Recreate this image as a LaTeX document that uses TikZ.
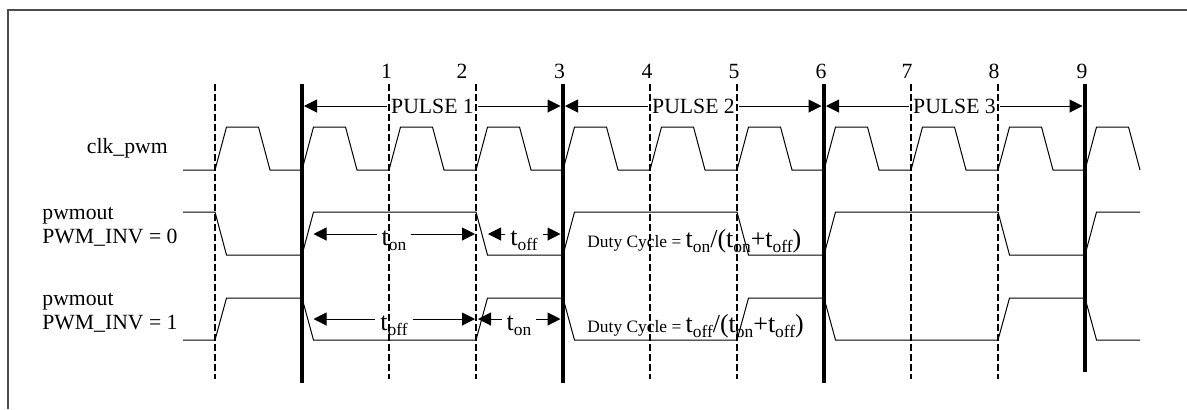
\documentclass[tikz,border=0pt]{standalone}
\usepackage{fontspec}
\setmainfont{Liberation Serif}
\usetikzlibrary{arrows.meta}

\newcommand{\tval}[1]{{\fontsize{13}{15}\selectfont t}\raisebox{-2.5pt}{\fontsize{8.7}{10}\selectfont #1}}

\begin{document}
\begin{tikzpicture}[x=0.5pt, y=-0.5pt,
  wave/.style={line width=0.5pt},
  bar/.style={line width=2pt},
  gridline/.style={line width=0.6pt, dash pattern=on 3.3pt off 1.7pt},
  dim/.style={{Triangle[length=6.5pt,width=6.5pt]}-{Triangle[length=6.5pt,width=6.5pt]}, line width=0.5pt},
  lbl/.style={font=\fontsize{10.85}{13}\selectfont, inner sep=0pt, anchor=base west},
  num/.style={font=\fontsize{10.85}{13}\selectfont, inner sep=0pt, anchor=base},
  ptag/.style={font=\fontsize{10.85}{13}\selectfont, fill=white, inner xsep=2.2pt, inner ysep=1pt, anchor=base},
  ttag/.style={font=\fontsize{13}{15}\selectfont, fill=white, inner xsep=2.5pt, inner ysep=0.5pt, anchor=base}
]
  \useasboundingbox (0,0) rectangle (1187,409);
  % frame
  \draw[black!70, line width=0.8pt] (8,409) -- (8,10) -- (1187,10);

  % grid tops
  \foreach \k in {0,...,10} \coordinate (g\k) at ({215+87*\k},84);

  % signal names
  \node[lbl] (clk) at (86.5,153) {clk\_pwm};
  \node[lbl] (pwm0) at (42,219) {pwmout};
  \node[lbl] (inv0) at (42,243) {PWM\_INV = 0};
  \node[lbl] (pwm1) at (42,305) {pwmout};
  \node[lbl] (inv1) at (42,329) {PWM\_INV = 1};

  % edge numbers
  \foreach \x/\n in {386.5/1,462/2,559.5/3,647/4,734/5,821/6,907/7,994/8,1082/9}
    \node[num] (n\n) at (\x,78) {\n};

  % waveforms
  \draw[wave] (183,170) foreach \k in {0,...,10} { -- ({215+87*\k},170) -- ++(11.5,-43) -- ++(32,0) -- ++(11.5,43) };
  \draw[wave] (183,212) -- (215,212) -- ++(11.5,43)
    foreach \j in {0,1,2} { -- ({302+261*\j},255) -- ++(11.5,-43) -- ({476+261*\j},212) -- ++(11.5,43) }
    -- (1085,255) -- ++(11.5,-43) -- (1140,212);
  \draw[wave] (183,340) -- (215,340) -- ++(11.5,-42)
    foreach \j in {0,1,2} { -- ({302+261*\j},298) -- ++(11.5,42) -- ({476+261*\j},340) -- ++(11.5,-42) }
    -- (1085,298) -- ++(11.5,42) -- (1140,340);

  % pulses
  \foreach \j/\p in {0/1,1/2,2/3} {
    \coordinate (pl\p) at ({304+261*\j},106);
    \coordinate (pr\p) at ({560.5+261*\j},106);
    \draw[dim] (pl\p) -- (pr\p);
    \node[ptag] (pulse\p) at ({432.5+261*\j},113) {PULSE \p};
  }

  % on / off times
  \coordinate (a0) at (313.5,234); \coordinate (b0) at (475,234); \coordinate (c0) at (488,234); \coordinate (d0) at (560.5,234);
  \coordinate (a1) at (313.5,319); \coordinate (b1) at (475,319); \coordinate (c1) at (478,319); \coordinate (d1) at (560.5,319);
  \draw[dim] (a0) -- (b0); \draw[dim] (c0) -- (d0);
  \draw[dim] (a1) -- (b1); \draw[dim] (c1) -- (d1);
  \node[ttag] (ton0) at (394,245) {\tval{on}};
  \node[ttag] (toff0) at (524,245) {\tval{off}};
  \node[ttag] (toff1) at (394,330) {\tval{off}};
  \node[ttag] (ton1) at (519,330) {\tval{on}};

  % duty cycle
  \node[lbl, font=\fontsize{13}{15}\selectfont] (duty0) at (587,247) {{\fontsize{8.7}{10}\selectfont Duty Cycle = }\tval{on}/(\tval{on}+\tval{off})};
  \node[lbl, font=\fontsize{13}{15}\selectfont] (duty1) at (587,332) {{\fontsize{8.7}{10}\selectfont Duty Cycle = }\tval{off}/(\tval{on}+\tval{off})};

  % edge lines
  \foreach \k in {0,2,3,5,6,8,9} \draw[gridline] (g\k) -- ++(0,295);
  \foreach \k in {1,4,7} \draw[bar] (g\k) -- ++(0,299);
  \draw[bar] (g10) -- ++(0,288);
\end{tikzpicture}
\end{document}
